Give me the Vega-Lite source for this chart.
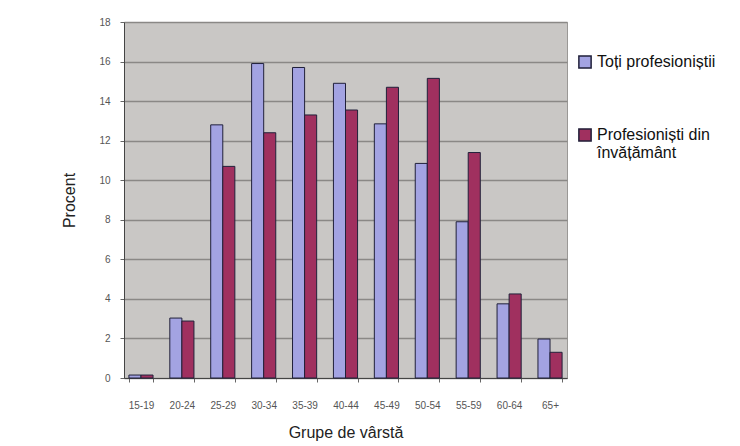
{
  "$schema": "https://vega.github.io/schema/vega-lite/v6.json",
  "width": 443,
  "height": 356,
  "autosize": "none",
  "padding": {"left": 124, "top": 22, "right": 173, "bottom": 68},
  "background": "white",
  "data": {
    "values": [
      {"grupa": "15-19", "serie": "Toți profesioniștii", "procent": 0.15},
      {"grupa": "15-19", "serie": "Profesioniști din|învățământ", "procent": 0.15},
      {"grupa": "20-24", "serie": "Toți profesioniștii", "procent": 3.03},
      {"grupa": "20-24", "serie": "Profesioniști din|învățământ", "procent": 2.88},
      {"grupa": "25-29", "serie": "Toți profesioniștii", "procent": 12.8},
      {"grupa": "25-29", "serie": "Profesioniști din|învățământ", "procent": 10.7},
      {"grupa": "30-34", "serie": "Toți profesioniștii", "procent": 15.9},
      {"grupa": "30-34", "serie": "Profesioniști din|învățământ", "procent": 12.4},
      {"grupa": "35-39", "serie": "Toți profesioniștii", "procent": 15.7},
      {"grupa": "35-39", "serie": "Profesioniști din|învățământ", "procent": 13.3},
      {"grupa": "40-44", "serie": "Toți profesioniștii", "procent": 14.9},
      {"grupa": "40-44", "serie": "Profesioniști din|învățământ", "procent": 13.55},
      {"grupa": "45-49", "serie": "Toți profesioniștii", "procent": 12.85},
      {"grupa": "45-49", "serie": "Profesioniști din|învățământ", "procent": 14.7},
      {"grupa": "50-54", "serie": "Toți profesioniștii", "procent": 10.85},
      {"grupa": "50-54", "serie": "Profesioniști din|învățământ", "procent": 15.15},
      {"grupa": "55-59", "serie": "Toți profesioniștii", "procent": 7.9},
      {"grupa": "55-59", "serie": "Profesioniști din|învățământ", "procent": 11.4},
      {"grupa": "60-64", "serie": "Toți profesioniștii", "procent": 3.75},
      {"grupa": "60-64", "serie": "Profesioniști din|învățământ", "procent": 4.25},
      {"grupa": "65+", "serie": "Toți profesioniștii", "procent": 1.97},
      {"grupa": "65+", "serie": "Profesioniști din|învățământ", "procent": 1.3}
    ]
  },
  "mark": {"type": "bar", "stroke": "#20203a", "strokeWidth": 1},
  "encoding": {
    "x": {
      "field": "grupa",
      "type": "nominal",
      "sort": null,
      "scale": {"paddingInner": 0.41, "paddingOuter": 0.12},
      "axis": {
        "title": "Grupe de vârstă",
        "titleFont": "Liberation Sans",
        "titleFontSize": 16,
        "titleFontWeight": "normal",
        "titleColor": "#222222",
        "titlePadding": 14,
        "labelAngle": 0,
        "labelFont": "Liberation Sans",
        "labelFontSize": 10,
        "labelColor": "#555555",
        "labelPadding": 18,
        "tickBand": "extent",
        "tickColor": "#666666",
        "tickSize": 4,
        "domainColor": "#444444",
        "grid": false
      }
    },
    "xOffset": {
      "field": "serie",
      "type": "nominal",
      "sort": null,
      "scale": {"paddingInner": 0, "paddingOuter": 0}
    },
    "y": {
      "field": "procent",
      "type": "quantitative",
      "scale": {"domain": [0, 18], "nice": false},
      "axis": {
        "title": "Procent",
        "titleFont": "Liberation Sans",
        "titleFontSize": 16,
        "titleFontWeight": "normal",
        "titleColor": "#222222",
        "titlePadding": 21,
        "values": [0, 2, 4, 6, 8, 10, 12, 14, 16, 18],
        "labelFont": "Liberation Sans",
        "labelFontSize": 10,
        "labelColor": "#555555",
        "labelPadding": 10,
        "tickColor": "#666666",
        "tickSize": 4,
        "domainColor": "#444444",
        "gridColor": "#8a8886",
        "gridWidth": 1.5
      }
    },
    "fill": {
      "field": "serie",
      "type": "nominal",
      "sort": null,
      "scale": {"range": ["#a3a3e2", "#a0305f"]},
      "legend": {
        "title": null,
        "orient": "none",
        "legendX": 453,
        "legendY": 32,
        "symbolType": "square",
        "symbolSize": 150,
        "symbolStrokeColor": "#20203a",
        "symbolStrokeWidth": 1.5,
        "labelFont": "Liberation Sans",
        "labelFontSize": 16,
        "labelColor": "#111111",
        "labelLimit": 200,
        "labelExpr": "split(datum.label, '|')",
        "rowPadding": 53,
        "padding": 0
      }
    }
  },
  "config": {
    "view": {"fill": "#c9c7c5", "stroke": "#9a9896"}
  }
}
